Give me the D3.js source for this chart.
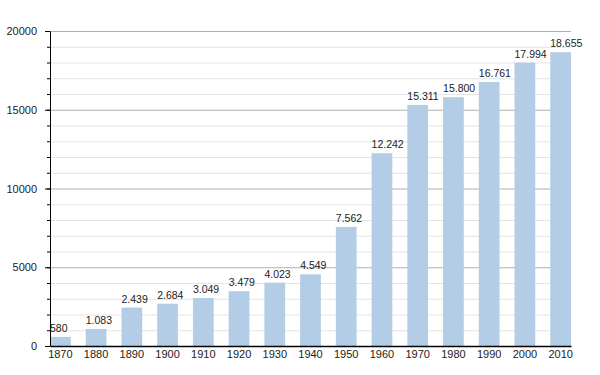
<!DOCTYPE html>
<html>
<head>
<meta charset="utf-8">
<script src="https://cdn.jsdelivr.net/npm/d3@7"></script>
<style>
  body { margin: 0; background: #fff; }
  svg text { font-family: "Liberation Sans", Arial, sans-serif; }
</style>
</head>
<body>
<div id="chart"></div>
<script>
// population per census year
const years = ["1870","1880","1890","1900","1910","1920","1930","1940","1950","1960","1970","1980","1990","2000","2010"];
const population = [580, 1083, 2439, 2684, 3049, 3479, 4023, 4549, 7562, 12242, 15311, 15800, 16761, 17994, 18655];
const majorTicks = [0, 5000, 10000, 15000, 20000];
const minorTicks = d3.range(0, 20001, 1000);

const width = 600, height = 375;
const margin = {top: 31, right: 29, bottom: 29, left: 50};
const plotW = width - margin.left - margin.right,
      plotH = height - margin.top - margin.bottom;

const svg = d3.select("#chart").append("svg")
  .attr("width", width)
  .attr("height", height);

const g = svg.append("g")
  .attr("transform", "translate(" + margin.left + "," + margin.top + ")");

const xScale = d3.scaleBand()
  .domain(years)
  .range([0, plotW])
  .paddingInner(0.42)
  .paddingOuter(0);

const yScale = d3.scaleLinear()
  .domain([0, 20000])
  .range([plotH, 0]);

const fmt = d3.formatLocale({decimal: ",", thousands: ".", grouping: [3], currency: ["", ""]}).format(",");

// minor grid
g.append("g").selectAll("line")
  .data(minorTicks.filter(d => d % 5000 !== 0))
  .enter().append("line")
  .attr("x1", 0).attr("x2", plotW)
  .attr("y1", d => yScale(d) + 0.5).attr("y2", d => yScale(d) + 0.5)
  .attr("stroke", "#e4e4e4");

// major grid
g.append("g").selectAll("line")
  .data(majorTicks.filter(d => d > 0))
  .enter().append("line")
  .attr("x1", 0).attr("x2", plotW)
  .attr("y1", d => yScale(d) + 0.5).attr("y2", d => yScale(d) + 0.5)
  .attr("stroke", "#b0b0b0");

// bars
g.selectAll("rect.bar")
  .data(population)
  .enter().append("rect")
  .attr("class", "bar")
  .attr("x", (d, i) => xScale(years[i]))
  .attr("y", d => yScale(d))
  .attr("width", xScale.bandwidth())
  .attr("height", d => plotH - yScale(d))
  .attr("fill", "#b3cde6");

// value labels, left aligned on the bar
g.selectAll("text.val")
  .data(population)
  .enter().append("text")
  .attr("class", "val")
  .attr("x", (d, i) => xScale(years[i]))
  .attr("y", d => yScale(d) - 5)
  .attr("text-anchor", "start")
  .style("font-size", "10.5px")
  .style("fill", "#222")
  .text(d => fmt(d));

// y axis with minor ticks
const yMinor = g.append("g")
  .call(d3.axisLeft(yScale).tickValues(minorTicks).tickSize(3).tickFormat(""));
yMinor.select(".domain").remove();
yMinor.selectAll("line").attr("stroke", "#000");

const yAxis = g.append("g")
  .call(d3.axisLeft(yScale).tickValues(majorTicks).tickSize(5).tickSizeOuter(0).tickPadding(8).tickFormat(d3.format("d")));
yAxis.selectAll("text").style("font-size", "11px").style("fill", "#222");
yAxis.select(".domain").attr("stroke", "#000");

// x axis
const xAxis = g.append("g")
  .attr("transform", "translate(0," + plotH + ")")
  .call(d3.axisBottom(xScale).tickSize(0).tickPadding(4));
xAxis.select(".domain").attr("stroke", "#000").attr("stroke-width", 1.5);
xAxis.selectAll("text").style("font-size", "11px").style("fill", "#222");
</script>
</body>
</html>
